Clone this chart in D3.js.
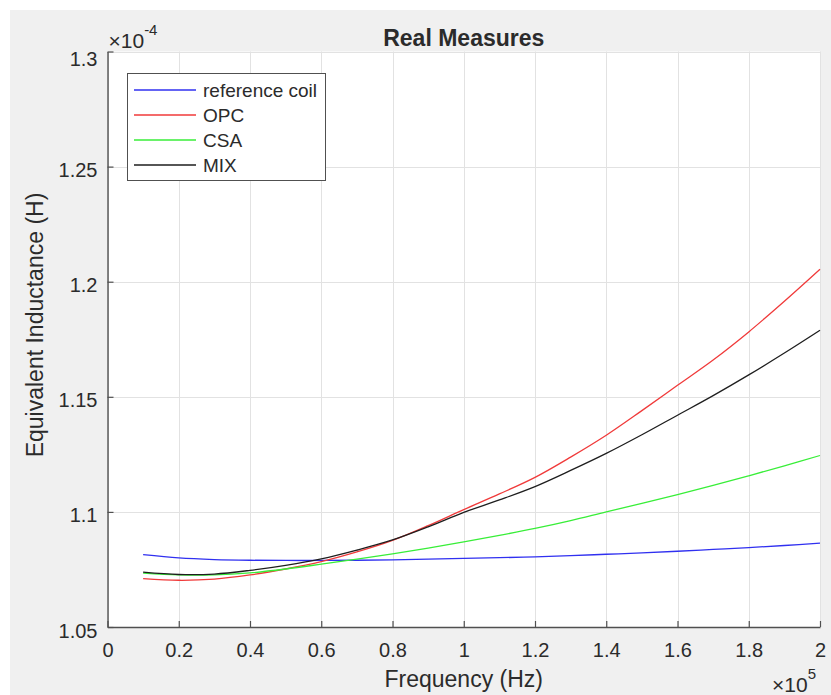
<!DOCTYPE html>
<html>
<head>
<meta charset="utf-8">
<script src="https://cdn.jsdelivr.net/npm/d3@7"></script>
<style>
  html, body { margin: 0; padding: 0; background: #ffffff; }
  svg { display: block; }
  text { font-family: "Liberation Sans", Arial, Helvetica, sans-serif; fill: #2b2b2b; }
</style>
</head>
<body>
<script>
// Frequency samples (×10^5 Hz)
const frequency = [0.1, 0.2, 0.3, 0.4, 0.5, 0.6, 0.7, 0.8, 0.9, 1.0,
                   1.1, 1.2, 1.3, 1.4, 1.5, 1.6, 1.7, 1.8, 1.9, 2.0];

// Equivalent inductance (×10^-4 H) for each winding
const referenceCoil = [1.0814, 1.0800, 1.0793, 1.0790, 1.0789, 1.0789, 1.0790, 1.0792, 1.0795, 1.0798,
                       1.0801, 1.0805, 1.0810, 1.0816, 1.0822, 1.0829, 1.0837, 1.0845, 1.0854, 1.0864];
const opc = [1.0710, 1.0703, 1.0708, 1.0726, 1.0752, 1.0784, 1.0826, 1.0876, 1.0940, 1.1010,
             1.1078, 1.1150, 1.1238, 1.1333, 1.1440, 1.1550, 1.1660, 1.1782, 1.1915, 1.2054];
const csa = [1.0734, 1.0726, 1.0726, 1.0735, 1.0752, 1.0773, 1.0795, 1.0818, 1.0843, 1.0870,
             1.0898, 1.0928, 1.0962, 1.1000, 1.1037, 1.1075, 1.1115, 1.1157, 1.1200, 1.1245];
const mix = [1.0738, 1.0728, 1.0730, 1.0746, 1.0768, 1.0796, 1.0834, 1.0878, 1.0935, 1.0998,
             1.1052, 1.1110, 1.1180, 1.1254, 1.1335, 1.1420, 1.1505, 1.1595, 1.1690, 1.1789];

const seriesNames = ["reference coil", "OPC", "CSA", "MIX"];
const seriesValues = [referenceCoil, opc, csa, mix];
const seriesColors = ["#3030f0", "#f03a3a", "#38ee38", "#1e1e1e"];

const xTicks = [0, 0.2, 0.4, 0.6, 0.8, 1, 1.2, 1.4, 1.6, 1.8, 2];
const yTicks = [1.05, 1.1, 1.15, 1.2, 1.25, 1.3];

const W = 831, H = 695;
const plot = { left: 107.5, right: 820, top: 51.5, bottom: 627 };

const svg = d3.select("body").append("svg").attr("width", W).attr("height", H);

// figure background
svg.append("rect").attr("width", W).attr("height", H).attr("fill", "#ffffff");
svg.append("rect").attr("x", 10).attr("y", 10).attr("width", W - 10).attr("height", H - 10).attr("fill", "#f0f0f0");

const x = d3.scaleLinear().domain([0, 2]).range([plot.left, plot.right]);
const y = d3.scaleLinear().domain([1.05, 1.3]).range([plot.bottom, plot.top]);

// axes background
svg.append("rect")
  .attr("x", plot.left).attr("y", plot.top)
  .attr("width", plot.right - plot.left).attr("height", plot.bottom - plot.top)
  .attr("fill", "#ffffff");

// grid
const grid = svg.append("g").attr("stroke", "#e2e2e2").attr("stroke-width", 1);
grid.selectAll("line.vx").data(xTicks).join("line")
  .attr("x1", d => Math.round(x(d)) + 0.5).attr("x2", d => Math.round(x(d)) + 0.5)
  .attr("y1", plot.top).attr("y2", plot.bottom);
grid.selectAll("line.hy").data(yTicks).join("line")
  .attr("y1", d => Math.round(y(d)) + 0.5).attr("y2", d => Math.round(y(d)) + 0.5)
  .attr("x1", plot.left).attr("x2", plot.right);

// series
const line = d3.line()
  .x((d, i) => x(frequency[i]))
  .y(d => y(d))
  .curve(d3.curveCatmullRom.alpha(0.5));

const lines = svg.append("g").attr("fill", "none").attr("stroke-width", 1.3);
seriesValues.forEach((vals, k) => {
  lines.append("path").datum(vals)
    .attr("d", line)
    .attr("stroke", seriesColors[k]);
});

// axes (ticks point inward)
const fmt = d => d3.format("~g")(d);
const xAxis = d3.axisBottom(x).tickValues(xTicks).tickFormat(fmt).tickSizeInner(-6).tickSizeOuter(0).tickPadding(12);
const yAxis = d3.axisLeft(y).tickValues(yTicks).tickFormat(fmt).tickSizeInner(-6).tickSizeOuter(0).tickPadding(10);

const gx = svg.append("g").attr("transform", `translate(0,${plot.bottom})`).call(xAxis);
const gy = svg.append("g").attr("transform", `translate(${plot.left},0)`).call(yAxis);
[gx, gy].forEach(g => {
  g.select(".domain").attr("stroke", "#505050").attr("stroke-width", 1.4);
  g.selectAll(".tick line").attr("stroke", "#505050").attr("stroke-width", 1.2);
  g.selectAll(".tick text").attr("font-size", 20).attr("fill", "#2b2b2b")
    .attr("font-family", "'Liberation Sans', Arial, Helvetica, sans-serif");
});
gx.selectAll(".tick text").attr("dy", "0.9em");
// the topmost y label sits a little lower, clear of the exponent
gy.selectAll(".tick text").attr("dy", d => d === 1.3 ? "0.72em" : "0.5em");

// exponent labels
const yExp = svg.append("text").attr("x", plot.left + 1).attr("y", 48).attr("font-size", 21);
yExp.append("tspan").text("\u00d710");
yExp.append("tspan").attr("dy", -13).attr("font-size", 15).text("-4");

const xExp = svg.append("text").attr("x", 772).attr("y", 692).attr("font-size", 21);
xExp.append("tspan").text("\u00d710");
xExp.append("tspan").attr("dy", -13).attr("font-size", 15).text("5");

// title and axis labels
svg.append("text").attr("x", (plot.left + plot.right) / 2).attr("y", 46)
  .attr("text-anchor", "middle").attr("font-size", 23).attr("font-weight", "bold")
  .attr("fill", "#000000").text("Real Measures");

svg.append("text").attr("x", (plot.left + plot.right) / 2).attr("y", 687)
  .attr("text-anchor", "middle").attr("font-size", 23).text("Frequency (Hz)");

svg.append("text")
  .attr("transform", `translate(43,325) rotate(-90)`)
  .attr("text-anchor", "middle").attr("font-size", 23).text("Equivalent Inductance (H)");

// legend
const leg = svg.append("g");
leg.append("rect").attr("x", 127.5).attr("y", 73.5).attr("width", 198).attr("height", 107)
  .attr("fill", "#ffffff").attr("stroke", "#505050").attr("stroke-width", 1);
seriesNames.forEach((name, k) => {
  const cy = 90 + k * 25;
  leg.append("line").attr("x1", 134).attr("x2", 196).attr("y1", cy).attr("y2", cy)
    .attr("stroke", seriesColors[k]).attr("stroke-width", 1.3);
  leg.append("text").attr("x", 203).attr("y", cy).attr("dy", "0.36em")
    .attr("font-size", 19).text(name);
});
</script>
</body>
</html>
